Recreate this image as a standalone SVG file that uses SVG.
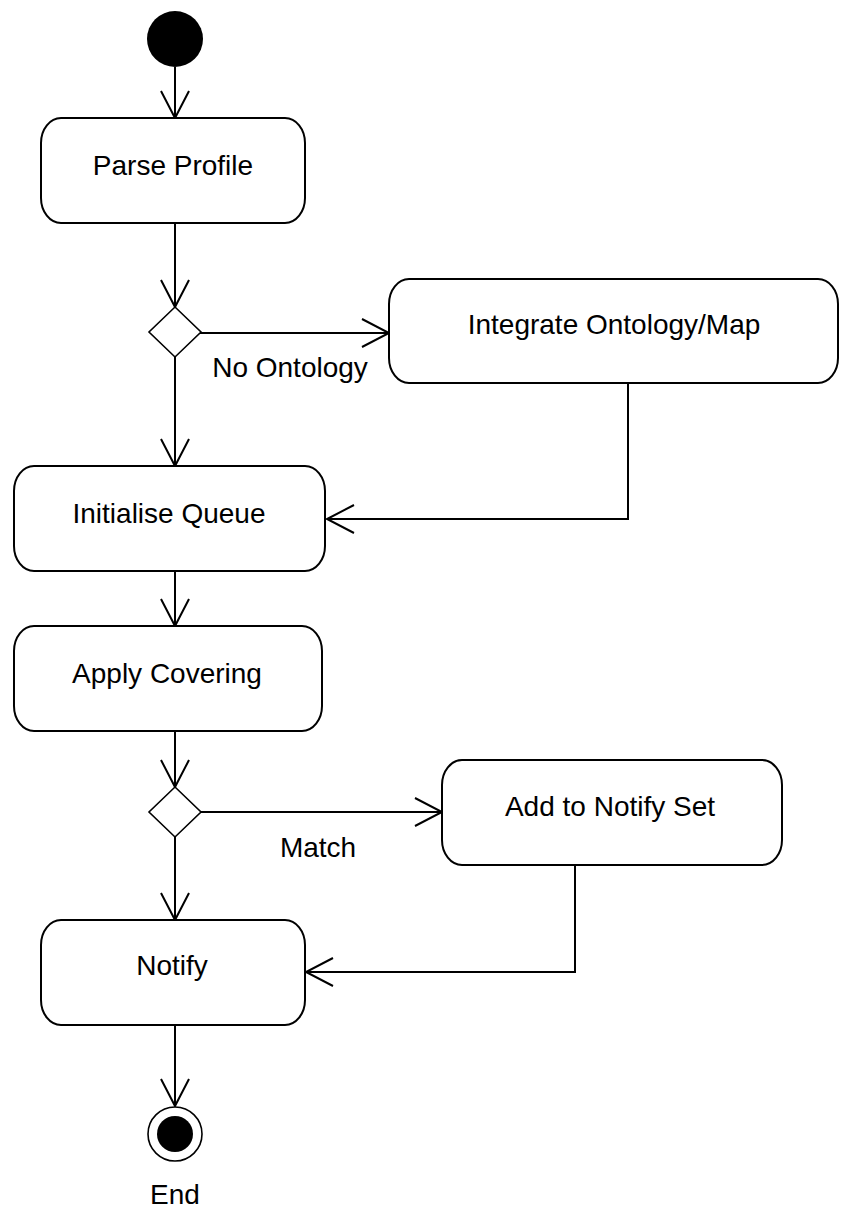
<svg xmlns="http://www.w3.org/2000/svg" width="841" height="1211" viewBox="0 0 841 1211">
<style>
.box{fill:#fff;stroke:#000;stroke-width:2}
.dia{fill:#fff;stroke:#000;stroke-width:1.6}
.lbl{font-family:"Liberation Sans",Arial,sans-serif;font-size:28px;fill:#000;text-anchor:middle}
.edge{fill:none;stroke:#000;stroke-width:2;marker-end:url(#arr)}
</style>
<defs>
<marker id="arr" markerUnits="userSpaceOnUse" markerWidth="32" markerHeight="32" viewBox="-30 -16 32 32" refX="0" refY="0" orient="auto" overflow="visible">
<path d="M -27 -14 L 0 0 L -27 14" fill="none" stroke="#000" stroke-width="2"/>
</marker>
</defs>
<rect width="841" height="1211" fill="#fff"/>
<g id="connectors">
<path class="edge" d="M175 67 V118"/>
<path class="edge" d="M175 223 V307"/>
<path class="edge" d="M200 333 H389"/>
<path class="edge" d="M175 357 V466"/>
<path class="edge" d="M628 383 V519 H327"/>
<path class="edge" d="M175 571 V626"/>
<path class="edge" d="M175 731 V787"/>
<path class="edge" d="M200 812 H442"/>
<path class="edge" d="M175 837 V920"/>
<path class="edge" d="M575 865 V972 H306"/>
<path class="edge" d="M175 1025 V1106"/>
<text class="lbl" x="290" y="377">No Ontology</text>
<text class="lbl" x="318" y="857">Match</text>
</g>
<g id="start"><circle cx="175" cy="39" r="28" fill="#000"/></g>
<g id="parse"><rect class="box" x="41" y="118" width="264" height="105" rx="20" ry="25"/><text class="lbl" x="173" y="175">Parse Profile</text></g>
<g id="decision1"><polygon class="dia" points="175,307 201,332 175,357 149,332"/></g>
<g id="integrate"><rect class="box" x="389" y="279" width="449" height="104" rx="20" ry="25"/><text class="lbl" x="614" y="334">Integrate Ontology/Map</text></g>
<g id="initq"><rect class="box" x="14" y="466" width="311" height="105" rx="20" ry="25"/><text class="lbl" x="169" y="523">Initialise Queue</text></g>
<g id="apply"><rect class="box" x="14" y="626" width="308" height="105" rx="20" ry="25"/><text class="lbl" x="167" y="683">Apply Covering</text></g>
<g id="decision2"><polygon class="dia" points="175,787 201,812 175,837 149,812"/></g>
<g id="addnotify"><rect class="box" x="442" y="760" width="340" height="105" rx="20" ry="25"/><text class="lbl" x="610" y="816">Add to Notify Set</text></g>
<g id="notify"><rect class="box" x="41" y="920" width="264" height="105" rx="20" ry="25"/><text class="lbl" x="172" y="975">Notify</text></g>
<g id="end"><circle cx="175" cy="1134" r="27" fill="#fff" stroke="#000" stroke-width="1.6"/><circle cx="175" cy="1134" r="18" fill="#000"/><text class="lbl" x="175" y="1204">End</text></g>
</svg>
